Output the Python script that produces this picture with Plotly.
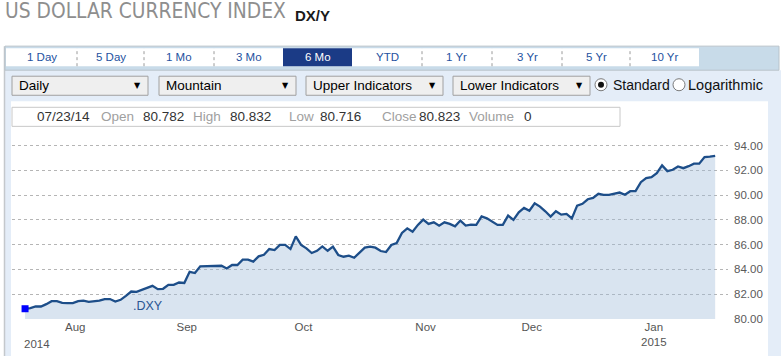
import pandas as pd
import plotly.graph_objects as go

# ---------------- data ----------------
start_date = "2014-07-23"
values = [
    80.82, 80.87, 81.00, 81.00, 81.19, 81.43, 81.43, 81.30, 81.27, 81.27,
    81.43, 81.48, 81.38, 81.43, 81.48, 81.60, 81.60, 81.40, 81.54, 81.86,
    82.21, 82.19, 82.35, 82.56, 82.67, 82.40, 82.43, 82.75, 82.75, 82.94,
    82.90, 83.80, 83.70, 84.24, 84.24, 84.24, 84.24, 84.29, 84.07, 84.35,
    84.35, 84.78, 84.78, 84.62, 85.05, 85.18, 85.64, 85.56, 85.97, 85.97,
    85.64, 86.66, 85.97, 85.70, 85.32, 85.50, 85.85, 85.50, 85.83, 85.16,
    85.02, 85.10, 84.94, 85.37, 85.75, 85.83, 85.75, 85.48, 85.40, 85.97,
    86.13, 86.94, 87.31, 87.04, 87.59, 88.02, 87.67, 87.80, 87.53, 87.80,
    87.67, 87.47, 87.94, 87.53, 87.61, 87.59, 88.28, 88.12, 87.88, 87.59,
    87.59, 88.34, 87.99, 88.61, 88.96, 88.74, 89.34, 89.07, 88.69, 88.26,
    88.69, 88.42, 88.48, 88.12, 89.15, 89.29, 89.66, 89.77, 90.10, 90.02,
    90.02, 90.10, 90.20, 90.02, 90.31, 90.31, 91.04, 91.37, 91.45, 91.77,
    92.39, 91.93, 92.04, 92.31, 92.17, 92.33, 92.53, 92.53, 93.06, 93.11,
    93.17,
]
dates = pd.bdate_range(start_date, periods=len(values))

month_labels = ["Aug", "Sep", "Oct", "Nov", "Dec", "Jan<br>2015"]
first_year_label = "2014"
y_ticks = [80, 82, 84, 86, 88, 90, 92, 94]
y_tick_labels = ["80.00", "82.00", "84.00", "86.00", "88.00", "90.00", "92.00", "94.00"]

tabs = ["1 Day", "5 Day", "1 Mo", "3 Mo", "6 Mo", "YTD", "1 Yr", "3 Yr", "5 Yr", "10 Yr"]
selected_tab = "6 Mo"
dropdowns = ["Daily", "Mountain", "Upper Indicators", "Lower Indicators"]
info_date = "07/23/14"
info_fields = [("Open", "80.782"), ("High", "80.832"), ("Low", "80.716"),
               ("Close", "80.823"), ("Volume", "0")]
series_name = ".DXY"

# month tick positions: first business day of each month in data
s = pd.Series(dates)
month_starts = s.groupby([s.dt.year, s.dt.month]).min().tolist()[1:]

# ---------------- geometry helpers ----------------
W, H = 781, 356          # design size (reference pixels)
FIG_H = 363              # rendered height


def px(x):
    return x / W


def py(y):
    return 1 - y / H


FONT = "Liberation Sans, Arial, sans-serif"
LINE_BLUE = "#1d4e89"

fig = go.Figure()

fig.add_trace(go.Scatter(
    x=dates, y=values, mode="lines",
    line=dict(color=LINE_BLUE, width=2.3),
    fill="tozeroy", fillcolor="rgba(160,188,218,0.40)",
    hoverinfo="skip", showlegend=False,
))
fig.add_trace(go.Scatter(
    x=[dates[0]], y=[values[0]], mode="markers",
    marker=dict(symbol="square", size=7, color="#0000ff"),
    hoverinfo="skip", showlegend=False,
))

shapes = []
annotations = []

# panel backgrounds
shapes.append(dict(type="rect", xref="paper", yref="paper",
                   x0=px(5), x1=px(781), y0=py(356), y1=py(70),
                   fillcolor="#e4edf8", line=dict(width=0), layer="below"))
shapes.append(dict(type="rect", xref="paper", yref="paper",
                   x0=px(11), x1=px(768), y0=py(356), y1=py(101),
                   fillcolor="#ffffff", line=dict(width=0), layer="below"))
shapes.append(dict(type="line", xref="paper", yref="paper",
                   x0=px(4.5), x1=px(4.5), y0=py(356), y1=py(46),
                   line=dict(color="#c4c8cc", width=1.5), layer="below"))

# tab bar
shapes.append(dict(type="rect", xref="paper", yref="paper",
                   x0=px(5), x1=px(779), y0=py(70), y1=py(46),
                   fillcolor="#c8dbe9", line=dict(color="#b9c3ca", width=1), layer="below"))
shapes.append(dict(type="rect", xref="paper", yref="paper",
                   x0=px(6), x1=px(699), y0=py(66), y1=py(48),
                   fillcolor="#ffffff", line=dict(width=0), layer="below"))
tab_edges = [6, 77, 144, 214, 283, 352, 422, 492, 562, 630, 699]
for i, t in enumerate(tabs):
    x0, x1 = tab_edges[i], tab_edges[i + 1]
    sel = (t == selected_tab)
    if sel:
        shapes.append(dict(type="rect", xref="paper", yref="paper",
                           x0=px(x0), x1=px(x1), y0=py(66), y1=py(48),
                           fillcolor="#1b3b86", line=dict(width=0), layer="below"))
    if 0 < i and not sel and tabs[i - 1] != selected_tab:
        shapes.append(dict(type="line", xref="paper", yref="paper",
                           x0=px(x0), x1=px(x0), y0=py(66), y1=py(48),
                           line=dict(color="#9a9a9a", width=1, dash="dot"), layer="below"))
    annotations.append(dict(xref="paper", yref="paper", x=px((x0 + x1) / 2), y=py(57),
                            text=t, showarrow=False, xanchor="center", yanchor="middle",
                            font=dict(family=FONT, size=11.5,
                                      color="#ffffff" if sel else "#2452a0")))

# dropdowns
dd_edges = [(12, 148), (159, 296), (306, 443), (453, 590)]
for (x0, x1), label in zip(dd_edges, dropdowns):
    shapes.append(dict(type="rect", xref="paper", yref="paper",
                       x0=px(x0), x1=px(x1), y0=py(95), y1=py(76),
                       fillcolor="#efefef", line=dict(color="#a0a0a0", width=1)))
    annotations.append(dict(xref="paper", yref="paper", x=px(x0 + 5), y=py(85.5),
                            text=label, showarrow=False, xanchor="left", yanchor="middle",
                            font=dict(family=FONT, size=13.5, color="#000000")))
    annotations.append(dict(xref="paper", yref="paper", x=px(x1 - 11), y=py(85.5),
                            text="▼", showarrow=False, xanchor="center", yanchor="middle",
                            font=dict(family="DejaVu Sans", size=8, color="#000000")))

# radio buttons
for cx, filled in [(601, True), (679, False)]:
    shapes.append(dict(type="circle", xref="paper", yref="paper",
                       x0=px(cx - 6), x1=px(cx + 6), y0=py(90.5), y1=py(78.5),
                       fillcolor="#ffffff", line=dict(color="#7a7a7a", width=1)))
    if filled:
        shapes.append(dict(type="circle", xref="paper", yref="paper",
                           x0=px(cx - 3), x1=px(cx + 3), y0=py(87.5), y1=py(81.5),
                           fillcolor="#111111", line=dict(width=0)))
annotations.append(dict(xref="paper", yref="paper", x=px(611), y=py(85),
                        text="Standard", showarrow=False, xanchor="left", yanchor="middle",
                        font=dict(family=FONT, size=14, color="#111111")))
annotations.append(dict(xref="paper", yref="paper", x=px(686), y=py(85),
                        text="Logarithmic", showarrow=False, xanchor="left", yanchor="middle",
                        font=dict(family=FONT, size=14.5, color="#111111")))

# info bar
shapes.append(dict(type="rect", xref="paper", yref="paper",
                   x0=px(12), x1=px(620), y0=py(126), y1=py(107),
                   fillcolor="#ffffff", line=dict(color="#c8c8c8", width=1)))
info_x = [(99, 141), (191, 228), (287, 318), (380, 417), (467, 522)]
annotations.append(dict(xref="paper", yref="paper", x=px(35), y=py(116.5),
                        text=info_date, showarrow=False, xanchor="left", yanchor="middle",
                        font=dict(family=FONT, size=13.5, color="#333333")))
for (lx, vx), (lab, val) in zip(info_x, info_fields):
    annotations.append(dict(xref="paper", yref="paper", x=px(lx), y=py(116.5),
                            text=lab, showarrow=False, xanchor="left", yanchor="middle",
                            font=dict(family=FONT, size=13.5, color="#a0a0a0")))
    annotations.append(dict(xref="paper", yref="paper", x=px(vx), y=py(116.5),
                            text=val, showarrow=False, xanchor="left", yanchor="middle",
                            font=dict(family=FONT, size=13.5, color="#333333")))

# title
annotations.append(dict(xref="paper", yref="paper", x=px(3), y=py(11),
                        text="US DOLLAR CURRENCY INDEX", showarrow=False,
                        xanchor="left", yanchor="middle",
                        font=dict(family="Liberation Sans Narrow, DejaVu Sans Condensed, Arial Narrow, sans-serif",
                                  size=20.8, color="#8e8e8e")))
annotations.append(dict(xref="paper", yref="paper", x=px(293), y=py(15),
                        text="<b>DX/Y</b>", showarrow=False, xanchor="left", yanchor="middle",
                        font=dict(family=FONT, size=15, color="#1a1a1a")))

# series label and first year label
annotations.append(dict(xref="paper", yref="paper", x=px(131), y=py(305.5),
                        text=series_name, showarrow=False, xanchor="left", yanchor="middle",
                        font=dict(family=FONT, size=12.5, color="#2a5592")))
annotations.append(dict(xref="x", yref="paper", x=dates[0], y=py(343),
                        text=first_year_label, showarrow=False, xanchor="center", yanchor="middle",
                        xshift=12,
                        font=dict(family=FONT, size=11.5, color="#555555")))

fig.update_layout(
    width=W, height=FIG_H, autosize=False,
    margin=dict(l=0, r=0, t=0, b=0),
    paper_bgcolor="#ffffff", plot_bgcolor="rgba(0,0,0,0)",
    shapes=shapes, annotations=annotations,
    showlegend=False,
    xaxis=dict(
        domain=[px(12), px(728)],
        type="date",
        range=["2014-07-18 13:00", "2015-01-23 10:00"],
        rangebreaks=[dict(bounds=["sat", "mon"])],
        tickvals=month_starts, ticktext=month_labels,
        ticklabelshift=13,
        tickfont=dict(family=FONT, size=11.5, color="#555555"),
        showgrid=False, zeroline=False, showline=False, ticks="",
        fixedrange=True,
    ),
    yaxis=dict(
        domain=[py(318), py(130)],
        range=[80, 80 + (318 - 130) / 12.35],
        side="right",
        tickvals=y_ticks, ticktext=y_tick_labels,
        tickfont=dict(family=FONT, size=11.5, color="#5a5a5a"),
        showgrid=True, gridcolor="#b5b5b5", griddash="dot", gridwidth=1,
        zeroline=False, showline=False, ticks="",
        ticklabelstandoff=5,
        fixedrange=True,
    ),
)

fig.write_html(
    "out.html",
    config={"displayModeBar": False},
    post_script=(
        "document.documentElement.style.margin='0px';"
        "document.body.style.margin='0px';"
        "document.body.style.padding='0px';"
        "document.body.style.overflow='hidden';"
    ),
)
